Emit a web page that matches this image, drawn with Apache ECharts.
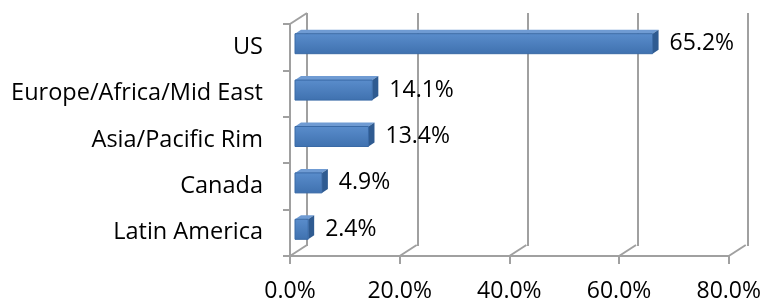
<!DOCTYPE html>
<html>
<head>
<meta charset="utf-8">
<script src="https://cdn.jsdelivr.net/npm/echarts@6/dist/echarts.min.js"></script>
<style>
  html, body { margin: 0; padding: 0; background: #fff; }
  #chart { width: 764px; height: 303px; }
</style>
</head>
<body>
<div id="chart"></div>
<script>
// regions, top to bottom
const regions = ['US', 'Europe/Africa/Mid East', 'Asia/Pacific Rim', 'Canada', 'Latin America'];
const shares = [65.2, 14.1, 13.4, 4.9, 2.4];
const xTicks = [0, 20, 40, 60, 80];

// fake 3d depth of the plot box
const DX = 17, DY = -11;
const lineColor = '#a0a0a0';
const font = '"Open Sans", sans-serif';

function renderBar(params, api) {
    const v = api.value(0);
    const i = api.value(1);
    const p0 = api.coord([0, i]);
    const p1 = api.coord([v, i]);
    const x0 = p0[0] + 5;
    const x1 = p1[0] + 5;
    const yc = p0[1] - 3.5;
    const yt = yc - 10, yb = yc + 10;
    const dx = 6, dy = -4;
    return {
        type: 'group',
        children: [
            {
                type: 'polygon',
                shape: { points: [[x0, yt], [x0 + dx, yt + dy], [x1 + dx, yt + dy], [x1, yt]] },
                style: { fill: '#6f9bd3' }
            },
            {
                type: 'polygon',
                shape: { points: [[x1, yt], [x1 + dx, yt + dy], [x1 + dx, yb + dy], [x1, yb]] },
                style: { fill: '#2f5b91' }
            },
            {
                type: 'rect',
                shape: { x: x0, y: yt, width: x1 - x0, height: yb - yt },
                style: {
                    fill: new echarts.graphic.LinearGradient(0, 0, 0, 1, [
                        { offset: 0, color: '#5a8dcc' },
                        { offset: 1, color: '#3f71af' }
                    ]),
                    stroke: '#3a6aa6',
                    lineWidth: 1
                }
            },
            {
                type: 'text',
                style: {
                    x: x1 + dx + 11,
                    y: yc,
                    text: v.toFixed(1) + '%',
                    font: '23px ' + font,
                    fill: '#000',
                    verticalAlign: 'middle'
                }
            }
        ]
    };
}

function renderDiag(params, api) {
    const cs = params.coordSys;
    const x = api.coord([api.value(0), 0])[0];
    const yBot = cs.y + cs.height;
    const children = [{
        type: 'line',
        shape: { x1: x, y1: yBot, x2: x + DX, y2: yBot + DY },
        style: { stroke: lineColor, lineWidth: 2 }
    }];
    if (params.dataIndex === 0) {
        // top edge of the left wall
        children.push({
            type: 'line',
            shape: { x1: cs.x, y1: cs.y, x2: cs.x + DX, y2: cs.y + DY },
            style: { stroke: lineColor, lineWidth: 2 }
        });
    }
    return { type: 'group', children: children };
}

const chart = echarts.init(document.getElementById('chart'));
chart.setOption({
    animation: false,
    grid: [
        { left: 290, right: 33, top: 24, bottom: 46 },
        { left: 290 + DX, right: 33 - DX, top: 24 + DY, bottom: 46 - DY }
    ],
    xAxis: [
        {
            type: 'value', gridIndex: 0, min: 0, max: 80, interval: 20,
            axisLine: { show: true, lineStyle: { color: lineColor, width: 2 } },
            axisTick: { show: true, length: 8, lineStyle: { color: lineColor, width: 2 } },
            splitLine: { show: false },
            axisLabel: {
                margin: 24, color: '#000', fontSize: 23, fontFamily: font,
                formatter: v => v.toFixed(1) + '%'
            }
        },
        {
            type: 'value', gridIndex: 1, min: 0, max: 80, interval: 20,
            axisLine: { show: false }, axisTick: { show: false }, axisLabel: { show: false },
            splitLine: { show: true, lineStyle: { color: lineColor, width: 2 } }
        }
    ],
    yAxis: [
        {
            type: 'category', gridIndex: 0, data: regions, inverse: true,
            axisLine: { show: true, lineStyle: { color: lineColor, width: 2 } },
            axisTick: { show: true, length: 7, lineStyle: { color: lineColor, width: 2 } },
            axisLabel: { margin: 27, color: '#000', fontSize: 23.5, fontFamily: font }
        },
        { type: 'value', gridIndex: 1, min: 0, max: 1, show: false }
    ],
    series: [
        {
            type: 'custom', xAxisIndex: 0, yAxisIndex: 0, clip: false, z: 3,
            renderItem: renderDiag,
            data: xTicks.map(t => [t, 0])
        },
        {
            type: 'custom', xAxisIndex: 0, yAxisIndex: 0, clip: false, z: 5,
            renderItem: renderBar,
            data: shares.map((v, i) => [v, i])
        }
    ]
});
</script>
</body>
</html>
